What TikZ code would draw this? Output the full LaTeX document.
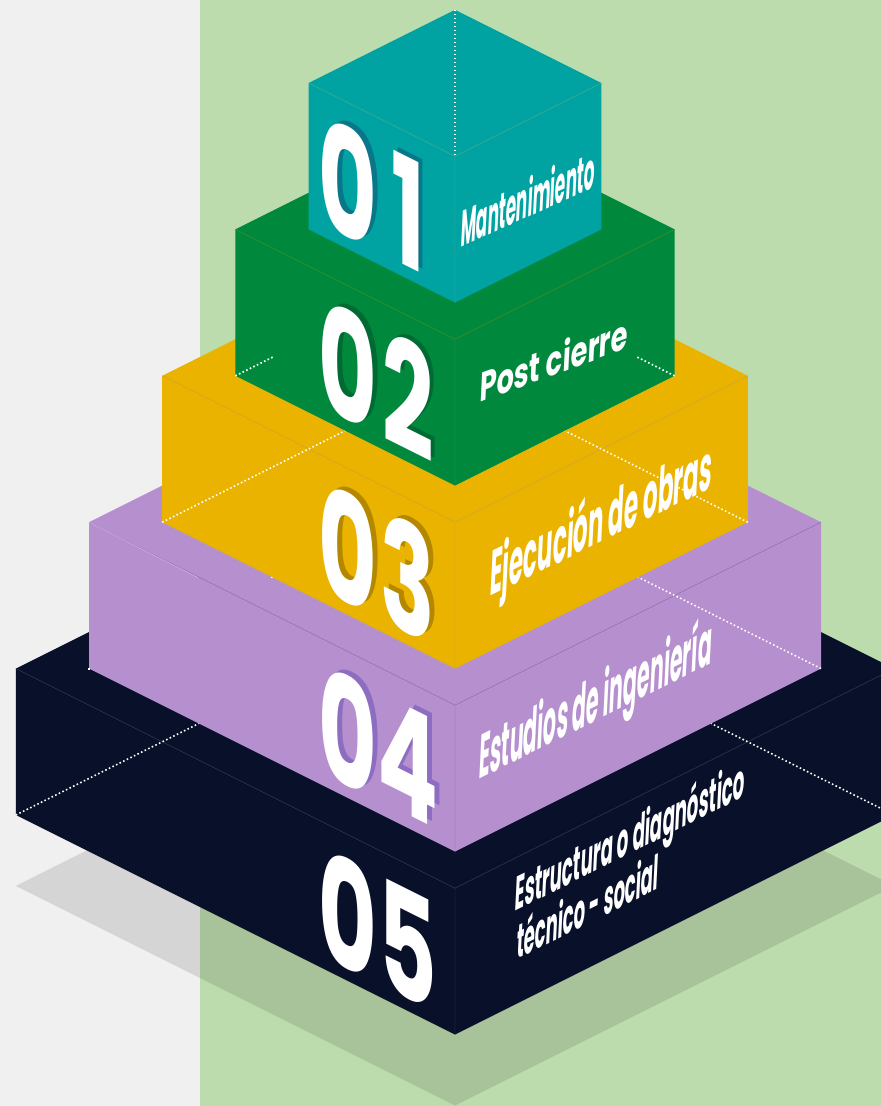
\documentclass[tikz,border=0pt]{standalone}
\usepackage{fontspec}
\usepackage{graphicx}
\newfontfamily\pop{Poppins}
\definecolor{bggray}{HTML}{F0F0F0}
\definecolor{bggreen}{HTML}{BDDCAE}
\definecolor{cteal}{HTML}{00A3A2}
\definecolor{cgreen}{HTML}{00893D}
\definecolor{cyellow}{HTML}{EAB300}
\definecolor{cpurple}{HTML}{B690CE}
\definecolor{cnavy}{HTML}{08102A}
\definecolor{steal}{HTML}{0A7689}
\definecolor{sgreen}{HTML}{006A33}
\definecolor{syellow}{HTML}{B38800}
\definecolor{spurple}{HTML}{8C6DC2}
\definecolor{eteal}{HTML}{4FAE8E}
\definecolor{egreen}{HTML}{4F8C2C}
\definecolor{eyellow}{HTML}{C9A43E}
\definecolor{epurple}{HTML}{8B6CA9}
\definecolor{epurplelight}{HTML}{D2BDE4}
\definecolor{enavy}{HTML}{394155}
\newcommand{\fitlabel}[3]{\resizebox{#1pt}{#2pt}{\pop\bfseries\smash{#3}\vphantom{E}}}
\newcommand{\dig}[1]{\scalebox{0.6}[1]{\pop\bfseries\fontsize{150}{150}\selectfont #1}}
\newcommand{\isobox}[3]{%
  \pgfmathsetmacro\bw{73.2*(#1+1)}%
  \pgfmathsetmacro\bY{83+146.4*(#1-1)}%
  \coordinate (b#1apex) at (455,{-(\bY-\bw/2)});
  \coordinate (b#1L) at ({455-\bw},{-\bY});
  \coordinate (b#1R) at ({455+\bw},{-\bY});
  \coordinate (b#1F) at (455,{-(\bY+\bw/2)});
  \coordinate (b#1LB) at ({455-\bw},{-(\bY+146.4)});
  \coordinate (b#1RB) at ({455+\bw},{-(\bY+146.4)});
  \coordinate (b#1B) at (455,{-(\bY+\bw/2+146.4)});
  \fill[#2] (b#1apex) -- (b#1R) -- (b#1RB) -- (b#1B) -- (b#1LB) -- (b#1L) -- cycle;
  \draw[#3, edge] (b#1L) -- (b#1F) -- (b#1R) (b#1F) -- (b#1B);
}
% #1 box index, #2 centre y (positive, image px), #3 first digit, #4 second digit, #5 shadow colour
\newcommand{\numpair}[5]{%
  \ifx\relax#5\relax\else
  \node[numtxt, text=#5] (n#1as) at (352.5,{-(#2-14)+3}) {\dig{#3}};
  \node[numtxt, text=#5] (n#1bs) at (412.5,{-(#2+16)+3}) {\dig{#4}};
  \fi
  \node[numtxt, text=white] (n#1a) at (348,{-(#2-14)}) {\dig{#3}};
  \node[numtxt, text=white] (n#1b) at (408,{-(#2+16)}) {\dig{#4}};
}
\tikzset{
  edge/.style={line width=0.45pt},
  dots/.style={white, line width=1.6pt, dash pattern=on 1.6pt off 2.4pt},
  dotpt/.style={inner sep=0pt, minimum size=2pt, fill=white, shape=rectangle},
  numtxt/.style={inner sep=0pt, anchor=center, cm={1,-0.5,0,1,(0,0)}},
  lbl/.style={inner sep=0pt, anchor=base west, text=white, cm={1,#1,0.05,1,(0,0)}},
}
\begin{document}
\begin{tikzpicture}[x=1pt,y=1pt]
\useasboundingbox (0,0) rectangle (881,-1106);
\clip (0,0) rectangle (881,-1106);
\fill[bggray] (0,0) rectangle (200,-1106);
\fill[bggreen] (200,0) rectangle (881,-1106);
% shadow
\fill[black, opacity=0.11] (15.8,-885.9) -- (455,-1105.5) -- (894.2,-885.9) -- (455,-666.3) -- cycle;

% ---- box 5
\isobox{5}{cnavy}{enavy}
\coordinate (d5a) at (198.8,-723.5);
\coordinate (d5b) at (711.2,-723.5);
\draw[dots] (b5LB) -- (d5a);
\draw[dots] (b5RB) -- (d5b);
\numpair{5}{928}{0}{5}{}
\node[lbl=0.5] (t5a) at (514,-912) {\fitlabel{230}{34}{Estructura o diagnóstico}};
\node[lbl=0.5] (t5b) at (516,-960) {\fitlabel{142}{34}{técnico - social}};

% ---- box 4
\isobox{4}{cpurple}{epurple}
\coordinate (d4m) at (198,-577.6);
\draw[epurplelight, edge] (b4L) -- (d4m);
\coordinate (d4a) at (272,-577.1);
\coordinate (d4b) at (638,-577.1);
\draw[dots] (b4RB) -- (d4b);
\node[dotpt] (p4a) at (b4LB) {};
\node[dotpt] (p4b) at (d4a) {};
\numpair{4}{745}{0}{4}{spurple}
\node[lbl=0.5] (t4) at (478,-780) {\fitlabel{233}{44}{Estudios de ingeniería}};

% ---- box 3
\isobox{3}{cyellow}{eyellow}
\coordinate (d3a) at (345.2,-430.7);
\coordinate (d3b) at (564.8,-430.7);
\draw[dots] (b3LB) -- (d3a);
\draw[dots] (b3RB) -- (d3b);
\numpair{3}{562}{0}{3}{syellow}
\node[lbl=0.49] (t3) at (489,-597) {\fitlabel{222}{45}{Ejecución de obras}};

% ---- box 2
\isobox{2}{cgreen}{egreen}
\coordinate (d2a) at (273.4,-356.8);
\coordinate (d2b) at (636.6,-356.8);
\draw[dots] (b2LB) -- (d2a);
\draw[dots] (b2RB) -- (d2b);
\numpair{2}{379}{0}{2}{sgreen}
\node[lbl=0.37] (t2) at (479,-403) {\fitlabel{148}{29}{Post cierre}};

% ---- box 1
\isobox{1}{cteal}{eteal}
\draw[dots] (b1apex) -- (b1F);
\numpair{1}{196}{0}{1}{steal}
\node[lbl=0.45] (t1) at (460,-248) {\fitlabel{134}{36}{Mantenimiento}};
\end{tikzpicture}
\end{document}
